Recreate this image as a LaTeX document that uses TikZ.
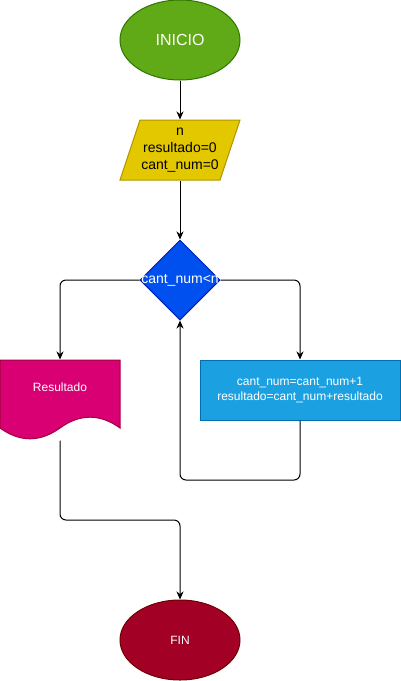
\documentclass[tikz,border=0pt]{standalone}
\usepackage{fontspec}
\setmainfont{Liberation Sans}
\usetikzlibrary{shapes.geometric,arrows.meta}
\definecolor{cstart}{HTML}{60A917}\definecolor{sstart}{HTML}{2D7600}
\definecolor{cin}{HTML}{E3C800}\definecolor{sin}{HTML}{B09500}
\definecolor{cdec}{HTML}{0050EF}\definecolor{sdec}{HTML}{001DBC}
\definecolor{cdoc}{HTML}{D80073}\definecolor{sdoc}{HTML}{A50040}
\definecolor{cproc}{HTML}{1BA1E2}\definecolor{sproc}{HTML}{006EAF}
\definecolor{cfin}{HTML}{A20025}\definecolor{sfin}{HTML}{6F0000}
\tikzset{
  fs12/.style={font=\fontsize{12pt}{14.4pt}\selectfont},
  fs14/.style={font=\fontsize{14pt}{17pt}\selectfont},
  fs16/.style={font=\fontsize{16pt}{19pt}\selectfont},
  conn/.style={line width=1pt, rounded corners=6pt},
  arr/.style={conn, -{Stealth[length=8pt,width=7pt,inset=2.5pt]}},
  shp/.style={line width=1pt, inner sep=0pt, align=center}
}
\begin{document}
\begin{tikzpicture}[x=1pt,y=-1pt]
\useasboundingbox (0,0) rectangle (401,681);
% start
\node (start) [shp, ellipse, fill=cstart, draw=sstart, minimum width=120pt, minimum height=80pt, text=white, fs16] at (180,40) {INICIO};
% input parallelogram
\path[shp, fill=cin, draw=sin] (140,120) -- (240,120) -- (220,180) -- (120,180) -- cycle;
\node (inp) [shp, minimum width=120pt, minimum height=60pt, text=black, fs14] at (180,150) {n\\resultado=0\\cant\_num=0};
% decision
\node (dec) [shp, diamond, fill=cdec, draw=sdec, minimum width=80pt, minimum height=80pt] at (180,280) {};
\node (declab) [fs14, text=white, inner sep=0pt] at (180,280) {cant\_num<n};
% document
\path[shp, fill=cdoc, draw=sdoc] (0,360) -- (120,360) -- (120,428) .. controls (100,413.6) and (80,413.6) .. (60,428) .. controls (40,442.4) and (20,442.4) .. (0,428) -- cycle;
\node (res) [shp, minimum width=120pt, minimum height=80pt] at (60,400) {};
\node (reslab) [fs12, text=white, inner sep=0pt] at (60,387) {Resultado};
% process
\node (proc) [shp, rectangle, fill=cproc, draw=sproc, minimum width=200pt, minimum height=60pt, text=white, fs12] at (300,390) {cant\_num=cant\_num+1\\resultado=cant\_num+resultado};
% end
\node (fin) [shp, ellipse, fill=cfin, draw=sfin, minimum width=120pt, minimum height=80pt, text=white, fs12] at (180,640) {FIN};
% connectors
\coordinate (loop) at (300,480);
\coordinate (mid) at (60,520);
\draw[arr] (start.south) -- (inp.north);
\draw[arr] (inp.south) -- (dec.north);
\draw[arr] (dec.west) -| (res.north);
\draw[arr] (dec.east) -| (proc.north);
\draw[arr] (proc.south) -- (loop) -| (dec.south);
\draw[arr] (res.south) -- (mid) -| (fin.north);
\end{tikzpicture}
\end{document}
